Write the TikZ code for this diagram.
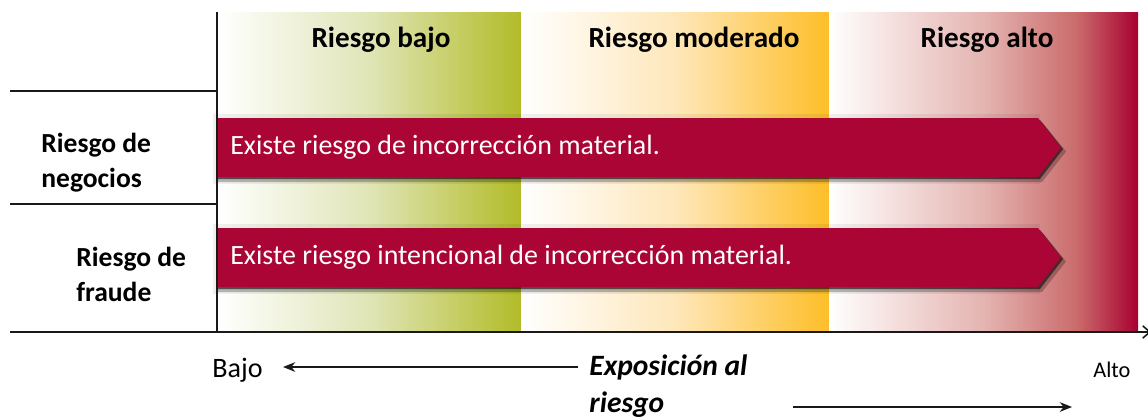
\documentclass[tikz,border=0pt]{standalone}
\usepackage{fontspec}
\setmainfont{Carlito}
\usetikzlibrary{arrows.meta}
\definecolor{barred}{RGB}{170,5,52}
\definecolor{lowgreen}{RGB}{178,188,40}
\definecolor{lowmid}{RGB}{224,229,183}
\definecolor{midyellow}{RGB}{253,190,40}
\definecolor{midmid}{RGB}{254,231,186}
\definecolor{highred}{RGB}{168,0,48}
\definecolor{highmid}{RGB}{228,180,177}
\definecolor{highdeep}{RGB}{202,108,108}
\pgfdeclarehorizontalshading{lowband}{100bp}{color(0bp)=(white); color(25bp)=(white); color(50bp)=(lowmid); color(75bp)=(lowgreen); color(100bp)=(lowgreen)}
\pgfdeclarehorizontalshading{midband}{100bp}{color(0bp)=(white); color(25bp)=(white); color(50bp)=(midmid); color(75bp)=(midyellow); color(100bp)=(midyellow)}
\pgfdeclarehorizontalshading{highband}{100bp}{color(0bp)=(white); color(25bp)=(white); color(50bp)=(highmid); color(65bp)=(highdeep); color(75bp)=(highred); color(100bp)=(highred)}
\tikzset{header/.style = {font=\bfseries\fontsize{16.6}{20}\selectfont, anchor=base, inner sep=0},
         rowlabel/.style = {font=\bfseries\fontsize{15.7}{19.8}\selectfont, align=left, anchor=north west, inner sep=0},
         bartext/.style = {text=white, font=\fontsize{15.9}{19}\selectfont, anchor=west, inner sep=0},
         axislabel/.style = {font=\fontsize{16}{19}\selectfont, anchor=base west, inner sep=0},
         rule/.style = {line width=0.9pt, black!90},
         pointer/.style = {line width=0.7pt, black!90, -{Stealth[length=7pt, width=5.5pt]}}}

\begin{document}
\begin{tikzpicture}[x=0.02cm, y=-0.02cm]
            \useasboundingbox (0,0) rectangle (1148,419);
            \clip (0,0) rectangle (1148,419);

            % risk bands
            \shade [shading=lowband] (217,12) rectangle (521,332);
            \shade [shading=midband] (521,12) rectangle (829,332);
            \shade [shading=highband] (829,12) rectangle (1138,332);

            \node [header] (low) at (381,47) {Riesgo bajo};
            \node [header] (mid) at (694,47) {Riesgo moderado};
            \node [header] (high) at (987,47) {Riesgo alto};

            % bars
            \foreach \y in {118, 228} {
                \fill [black, opacity=0.06] (213,\y-4) -- (1040,\y-4) -- (1040,\y+66) -- (213,\y+66) -- cycle;
                \fill [black, opacity=0.25] (218,\y+4) -- (1042,\y+4) -- (1066,\y+33.5) -- (1042,\y+64) -- (218,\y+64) -- cycle;
                \fill [black, opacity=0.55] (218,\y+2) -- (1040,\y+2) -- (1063,\y+31) -- (1040,\y+61) -- (218,\y+61) -- cycle;
                \fill [barred] (217,\y) -- (1038,\y) -- (1061,\y+29.5) -- (1038,\y+59) -- (217,\y+59) -- cycle;
            }
            \node [bartext] (business) at (230,147.5) {Existe riesgo de incorrección material.};
            \node [bartext] (fraud) at (230,257.5) {Existe riesgo intencional de incorrección material.};

            \node [rowlabel] (businesslbl) at (41,133) {Riesgo de\\negocios};
            \node [rowlabel] (fraudlbl) at (76,247) {Riesgo de\\fraude};

            % axes
            \draw [rule] (217,12) -- (217,332);
            \draw [rule] (10,91) -- (217,91);
            \draw [rule] (10,204) -- (217,204);
            \draw [rule, -{Straight Barb[length=4pt, width=7pt]}] (10,332) -- (1151,332);

            \node [axislabel] (bajo) at (212,377) {Bajo};
            \node [axislabel, font=\fontsize{12.7}{15}\selectfont] (alto) at (1093,377) {Alto};
            \node [rowlabel, font=\bfseries\itshape\fontsize{16.8}{21.5}\selectfont] (expo) at (589,354) {Exposición al\\riesgo};

            \coordinate (leftstart) at (578,367);
            \coordinate (leftend) at (283,367);
            \coordinate (rightstart) at (793,407);
            \coordinate (rightend) at (1072,407);
            \draw [pointer] (leftstart) -- (leftend);
            \draw [pointer] (rightstart) -- (rightend);
        \end{tikzpicture}
\end{document}
